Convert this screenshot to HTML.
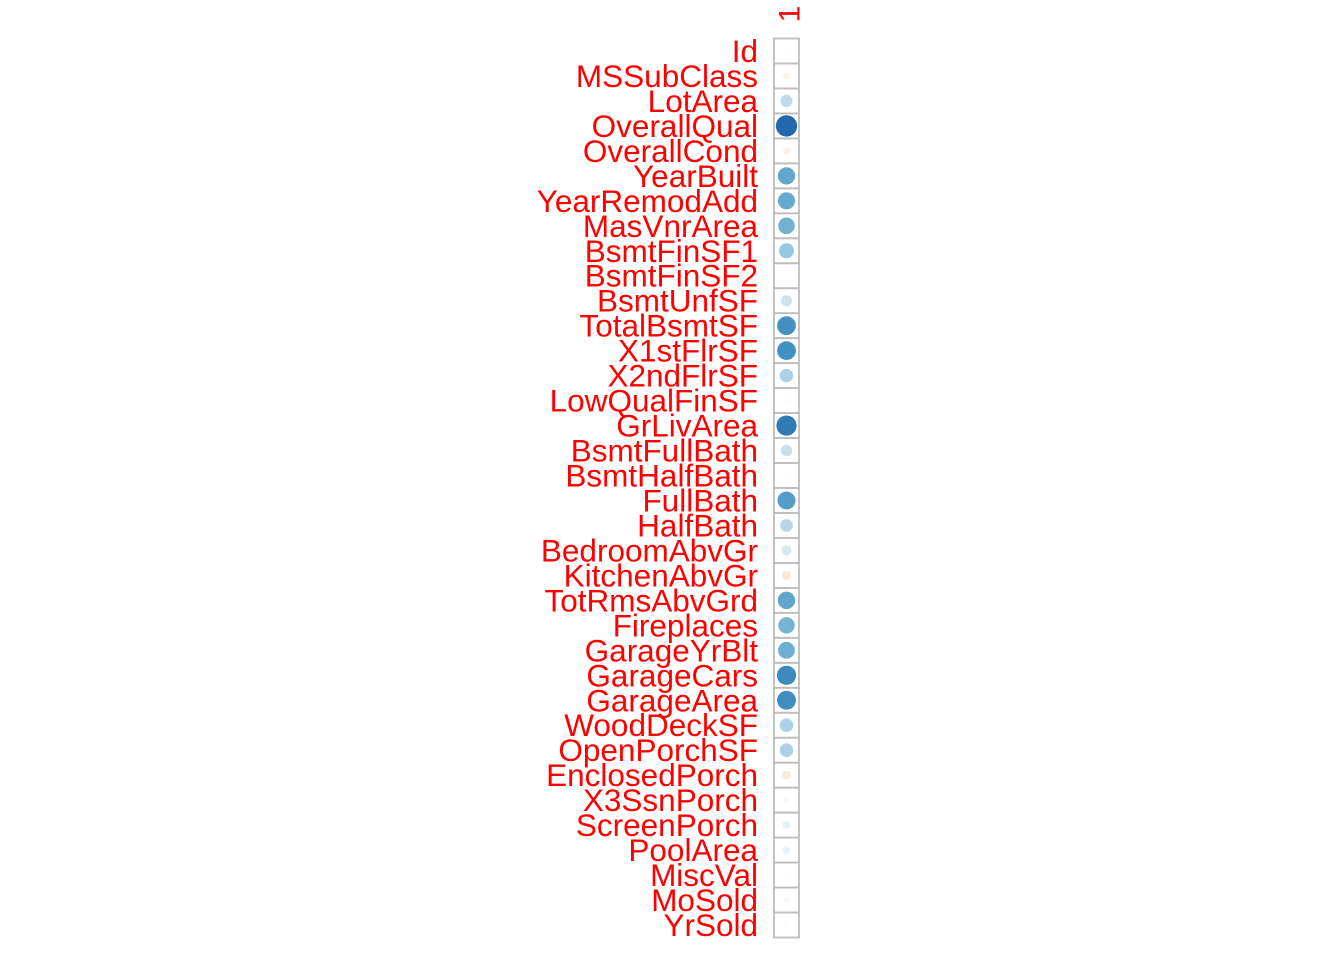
<!DOCTYPE html>
<html><head><meta charset="utf-8"><style>
html,body{margin:0;padding:0;background:#fff;}
svg{display:block;font-family:"Liberation Sans",sans-serif;}
</style></head><body>
<svg id="chart" width="1344" height="960">
<text x="790" y="14" fill="#ff0000" font-size="30" text-anchor="middle" transform="rotate(-90 790 14)" dominant-baseline="central">1</text>
<g id="rows"></g>
</svg>
<script>
const variables=["Id","MSSubClass","LotArea","OverallQual","OverallCond","YearBuilt","YearRemodAdd","MasVnrArea","BsmtFinSF1","BsmtFinSF2","BsmtUnfSF","TotalBsmtSF","X1stFlrSF","X2ndFlrSF","LowQualFinSF","GrLivArea","BsmtFullBath","BsmtHalfBath","FullBath","HalfBath","BedroomAbvGr","KitchenAbvGr","TotRmsAbvGrd","Fireplaces","GarageYrBlt","GarageCars","GarageArea","WoodDeckSF","OpenPorchSF","EnclosedPorch","X3SsnPorch","ScreenPorch","PoolArea","MiscVal","MoSold","YrSold"];
const correlations=[-0.02,-0.08,0.26,0.79,-0.08,0.52,0.51,0.48,0.39,-0.01,0.21,0.61,0.61,0.32,-0.03,0.71,0.23,-0.02,0.56,0.28,0.17,-0.14,0.53,0.47,0.49,0.64,0.62,0.32,0.32,-0.13,0.04,0.11,0.09,-0.02,0.05,-0.03];
const pal=["#67001F","#B2182B","#D6604D","#F4A582","#FDDBC7","#FFFFFF","#D1E5F0","#92C5DE","#4393C3","#2166AC","#053061"];
function color(v){const t=(v+1)/2*10;const i=Math.min(9,Math.floor(t));const f=t-i;
const a=pal[i],b=pal[i+1];const c=k=>{const x=parseInt(a.substr(1+2*k,2),16),y=parseInt(b.substr(1+2*k,2),16);return Math.round(x+(y-x)*f);};
return `rgb(${c(0)},${c(1)},${c(2)})`;}
const NS="http://www.w3.org/2000/svg";
const g=document.getElementById('rows');
const x0=774,x1=799,y0=38.5,y1=937.5;
const h=(y1-y0)/variables.length;
const yScale=i=>y0+i*h;
const rScale=v=>Math.sqrt(Math.abs(v))*12;
variables.forEach((name,i)=>{
  const y=yScale(i);
  const t=document.createElementNS(NS,'text');
  
  
  t.setAttribute('x',758);t.setAttribute('y',y+h/2+11);
  t.setAttribute('text-anchor','end');t.setAttribute('fill','#ff0000');t.setAttribute('font-size','31.5');
  t.textContent=name;g.appendChild(t);
  const c=document.createElementNS(NS,'circle');
  
  
  c.setAttribute('cx',(x0+x1)/2);c.setAttribute('cy',y+h/2);
  c.setAttribute('r',rScale(correlations[i]));c.setAttribute('fill',color(correlations[i]));
  g.appendChild(c);
  const r=document.createElementNS(NS,'rect');
  
  
  r.setAttribute('x',x0);r.setAttribute('y',y);r.setAttribute('width',x1-x0);r.setAttribute('height',h);
  r.setAttribute('fill','none');r.setAttribute('stroke','#bebebe');r.setAttribute('stroke-width','1.8');
  g.appendChild(r);
});
</script>
</body></html>
